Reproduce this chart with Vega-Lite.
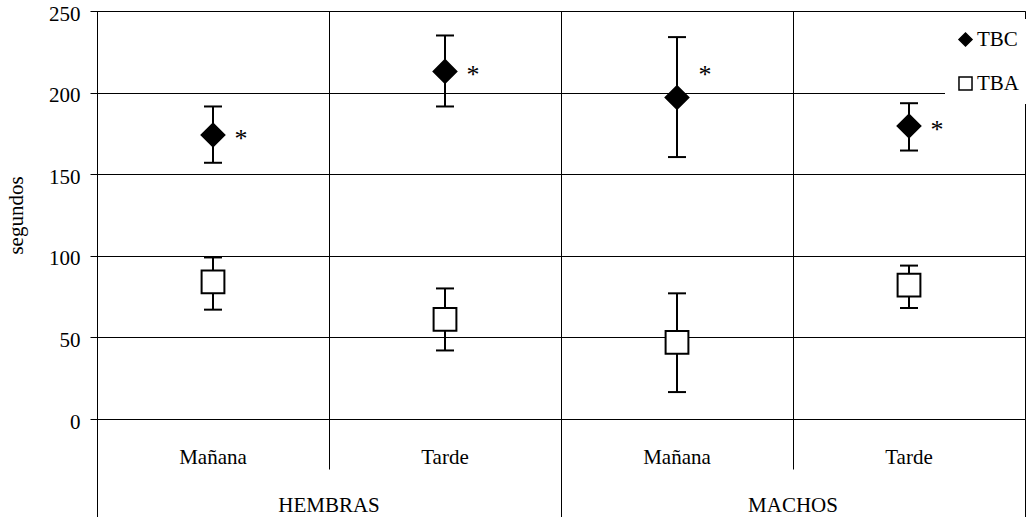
{
  "$schema": "https://vega.github.io/schema/vega-lite/v6.json",
  "width": 928,
  "height": 408,
  "autosize": {"type": "none"},
  "padding": {"left": 97, "top": 11, "right": 9, "bottom": 98},
  "background": "white",
  "config": {
    "font": "Liberation Serif, Times New Roman, serif",
    "view": {"stroke": "black", "strokeWidth": 1},
    "axisY": {
      "grid": true, "gridColor": "black", "gridOpacity": 1, "gridWidth": 1,
      "domainColor": "black", "domainWidth": 1,
      "tickColor": "black", "tickSize": 7, "tickCount": 5,
      "labelFont": "Liberation Serif, Times New Roman, serif", "labelFontSize": 21, "labelColor": "black",
      "labelPadding": 10, "labelOffset": 3,
      "titleFont": "Liberation Serif, Times New Roman, serif", "titleFontSize": 21, "titleFontWeight": "normal",
      "titleColor": "black", "titlePadding": 22
    },
    "axisX": {
      "labelFont": "Liberation Serif, Times New Roman, serif", "labelFontSize": 21, "labelColor": "black",
      "tickColor": "black", "tickWidth": 1, "labelAngle": 0
    },
    "legend": {
      "labelFont": "Liberation Serif, Times New Roman, serif"
    }
  },
  "data": {
    "values": [
      {"sexo": "HEMBRAS", "periodo": "Mañana", "celda": "HEMBRAS|Mañana", "serie": "TBC", "media": 174, "inf": 157, "sup": 191.5},
      {"sexo": "HEMBRAS", "periodo": "Mañana", "celda": "HEMBRAS|Mañana", "serie": "TBA", "media": 84, "inf": 67, "sup": 99},
      {"sexo": "HEMBRAS", "periodo": "Tarde", "celda": "HEMBRAS|Tarde", "serie": "TBC", "media": 213, "inf": 191.5, "sup": 235},
      {"sexo": "HEMBRAS", "periodo": "Tarde", "celda": "HEMBRAS|Tarde", "serie": "TBA", "media": 61, "inf": 42, "sup": 80},
      {"sexo": "MACHOS", "periodo": "Mañana", "celda": "MACHOS|Mañana", "serie": "TBC", "media": 197, "inf": 160.5, "sup": 234},
      {"sexo": "MACHOS", "periodo": "Mañana", "celda": "MACHOS|Mañana", "serie": "TBA", "media": 47, "inf": 16.5, "sup": 77},
      {"sexo": "MACHOS", "periodo": "Tarde", "celda": "MACHOS|Tarde", "serie": "TBC", "media": 179.5, "inf": 164.5, "sup": 193.5},
      {"sexo": "MACHOS", "periodo": "Tarde", "celda": "MACHOS|Tarde", "serie": "TBA", "media": 82, "inf": 68, "sup": 94}
    ]
  },
  "layer": [
    {
      "mark": {"type": "rule", "color": "black", "strokeWidth": 2},
      "encoding": {
        "x": {
          "field": "celda", "type": "nominal",
          "scale": {"type": "band", "domain": ["HEMBRAS|Mañana", "HEMBRAS|Tarde", "MACHOS|Mañana", "MACHOS|Tarde"], "paddingInner": 0, "paddingOuter": 0},
          "axis": {
            "orient": "bottom", "title": null, "domain": false,
            "grid": true, "gridColor": "black", "gridOpacity": 1, "gridWidth": 1,
            "bandPosition": 0, "ticks": true, "tickSize": 50,
            "labelExpr": "split(datum.label, '|')[1]",
            "labelBaseline": "alphabetic", "labelPadding": -6
          }
        },
        "y": {"field": "inf", "type": "quantitative", "title": "segundos", "scale": {"domain": [0, 250], "nice": false}},
        "y2": {"field": "sup"}
      }
    },
    {
      "mark": {"type": "tick", "color": "black", "size": 18, "thickness": 2, "opacity": 1},
      "encoding": {
        "x": {
          "field": "celda", "type": "nominal",
          "scale": {"type": "band", "domain": ["HEMBRAS|Mañana", "HEMBRAS|Tarde", "MACHOS|Mañana", "MACHOS|Tarde"], "paddingInner": 0, "paddingOuter": 0},
          "axis": {
            "orient": "bottom", "title": null, "domain": false, "grid": false,
            "bandPosition": 0, "values": ["HEMBRAS|Mañana", "MACHOS|Mañana"],
            "tickSize": 98,
            "labelExpr": "split(datum.label, '|')[0]",
            "labelOffset": 116, "labelBaseline": "alphabetic", "labelPadding": -6
          }
        },
        "y": {"field": "sup", "type": "quantitative", "title": "segundos"}
      }
    },
    {
      "mark": {"type": "tick", "color": "black", "size": 18, "thickness": 2, "opacity": 1},
      "encoding": {
        "x": {
          "field": "celda", "type": "nominal",
          "scale": {"type": "band", "domain": ["HEMBRAS|Mañana", "HEMBRAS|Tarde", "MACHOS|Mañana", "MACHOS|Tarde"], "paddingInner": 0, "paddingOuter": 0},
          "axis": {
            "orient": "bottom", "title": null, "domain": false, "grid": false,
            "bandPosition": 1, "values": ["MACHOS|Tarde"],
            "tickSize": 98, "labels": false
          }
        },
        "y": {"field": "inf", "type": "quantitative", "title": "segundos"}
      }
    },
    {
      "mark": {"type": "point", "filled": true, "strokeWidth": 2, "opacity": 1, "size": 520},
      "encoding": {
        "x": {
          "field": "celda", "type": "nominal",
          "scale": {"type": "band", "domain": ["HEMBRAS|Mañana", "HEMBRAS|Tarde", "MACHOS|Mañana", "MACHOS|Tarde"], "paddingInner": 0, "paddingOuter": 0},
          "axis": null
        },
        "y": {"field": "media", "type": "quantitative", "title": "segundos"},
        "shape": {
          "field": "serie", "type": "nominal",
          "scale": {"domain": ["TBC", "TBA"], "range": ["diamond", "square"]},
          "legend": {
            "orient": "none", "legendX": 848, "legendY": 8, "title": null,
            "fillColor": "white", "padding": 10, "rowPadding": 22,
            "labelFont": "Liberation Serif, Times New Roman, serif", "labelFontSize": 21, "labelColor": "black", "labelOffset": 1,
            "symbolSize": 170, "symbolStrokeWidth": 1.5
          }
        },
        "fill": {
          "field": "serie", "type": "nominal",
          "scale": {"domain": ["TBC", "TBA"], "range": ["black", "white"]},
          "legend": {
            "orient": "none", "legendX": 848, "legendY": 8, "title": null,
            "fillColor": "white", "padding": 10, "rowPadding": 22,
            "labelFont": "Liberation Serif, Times New Roman, serif", "labelFontSize": 21, "labelColor": "black", "labelOffset": 1,
            "symbolSize": 170, "symbolStrokeWidth": 1.5
          }
        },
        "stroke": {
          "field": "serie", "type": "nominal",
          "scale": {"domain": ["TBC", "TBA"], "range": ["black", "black"]},
          "legend": {
            "orient": "none", "legendX": 848, "legendY": 8, "title": null,
            "fillColor": "white", "padding": 10, "rowPadding": 22,
            "labelFont": "Liberation Serif, Times New Roman, serif", "labelFontSize": 21, "labelColor": "black", "labelOffset": 1,
            "symbolSize": 170, "symbolStrokeWidth": 1.5
          }
        }
      }
    },
    {
      "data": {
        "values": [
          {"celda": "HEMBRAS|Mañana", "posicion": 174},
          {"celda": "HEMBRAS|Tarde", "posicion": 213},
          {"celda": "MACHOS|Mañana", "posicion": 213},
          {"celda": "MACHOS|Tarde", "posicion": 179.5}
        ]
      },
      "mark": {"type": "text", "text": "*", "dx": 28, "dy": 12, "fontSize": 26, "font": "Liberation Serif, Times New Roman, serif", "baseline": "alphabetic", "align": "center", "fill": "black"},
      "encoding": {
        "x": {
          "field": "celda", "type": "nominal",
          "scale": {"type": "band", "domain": ["HEMBRAS|Mañana", "HEMBRAS|Tarde", "MACHOS|Mañana", "MACHOS|Tarde"], "paddingInner": 0, "paddingOuter": 0},
          "axis": null
        },
        "y": {"field": "posicion", "type": "quantitative", "title": "segundos"}
      }
    }
  ],
  "resolve": {"axis": {"x": "independent"}}
}
